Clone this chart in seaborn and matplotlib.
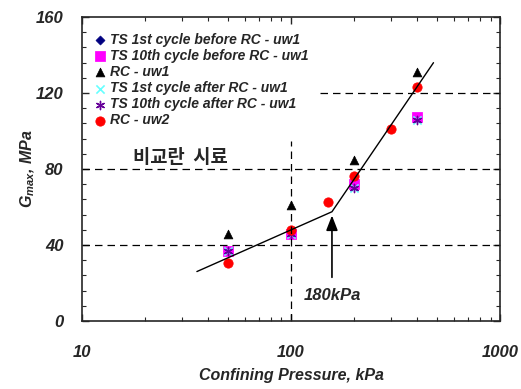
import numpy as np
import pandas as pd
import matplotlib
matplotlib.use('Agg')
import matplotlib.pyplot as plt
import seaborn as sns

# 데이터
pressure = [50, 100, 200, 400]
ts1_before = [37, 46, 72, 107]
ts10_before = [37, 46, 72, 107.5]
rc_uw1 = [46, 61, 84.5, 131]
ts1_after = [37, 46, 70, 106]
ts10_after = [37, 46, 70, 106]
rc_uw2_p = [50, 100, 150, 200, 300, 400]
rc_uw2 = [30.5, 48, 62.5, 76.5, 101, 123]

fit_p = [35.5, 157, 480]
fit_g = [26, 57.5, 136]

series_names = ['TS 1st cycle before RC - uw1', 'TS 10th cycle before RC - uw1', 'RC - uw1',
                'TS 1st cycle after RC - uw1', 'TS 10th cycle after RC - uw1', 'RC - uw2']

sns.set_style('ticks')
plt.rcParams['font.family'] = ['Liberation Sans', 'Noto Sans CJK KR', 'DejaVu Sans']
plt.rcParams['mathtext.fontset'] = 'custom'
plt.rcParams['mathtext.it'] = 'Liberation Sans:bold:italic'
plt.rcParams['mathtext.rm'] = 'Liberation Sans:bold:italic'

fig = plt.figure(figsize=(5.21, 3.89), dpi=100)
ax = fig.add_axes([0.157, 0.175, 0.803, 0.781])

# 참조선
ax.axhline(40, color='black', lw=0.9, ls=(0, (6, 4)))
ax.axhline(80, color='black', lw=0.9, ls=(0, (6, 4)))
ax.plot([137, 1000], [120, 120], color='black', lw=0.9, ls=(0, (6, 4)))
ax.plot([100, 100], [0, 95], color='black', lw=0.9, ls=(0, (6, 4)))

# 추세선
sns.lineplot(x=fit_p, y=fit_g, ax=ax, color='black', lw=1.0, sort=False)

styles = [
    (pressure, ts1_before, dict(marker='D', color='#000080', s=22)),
    (pressure, ts10_before, dict(marker='s', color='#ff00ff', s=45)),
    (pressure, rc_uw1, dict(marker='^', color='black', s=40)),
    (pressure, ts1_after, dict(marker='x', color='#66ffff', s=35, linewidth=1.2)),
    (pressure, ts10_after, dict(marker=(6, 2, 0), color='#660099', s=35, linewidth=1.0)),
    (rc_uw2_p, rc_uw2, dict(marker='o', color='#ff0000', s=45)),
]
for name, (xs, ys, kw) in zip(series_names, styles):
    sns.scatterplot(x=xs, y=ys, ax=ax, label=name, edgecolor=kw['color'] if kw['marker'] not in ('x', (6, 2, 0)) else None, **kw)

ax.set_xscale('log')
ax.set_xlim(10, 1000)
ax.set_ylim(0, 160)
ax.set_yticks([0, 40, 80, 120, 160])
ax.set_yticks(np.arange(0, 161, 8), minor=True)
ax.set_xticks([10, 100, 1000])
ax.set_xticklabels(['10', '100', '1000'])
ax.tick_params(which='both', direction='in', top=True, right=True)
ax.tick_params(which='major', length=5, width=1)
ax.tick_params(which='minor', length=3, width=0.8)
ax.tick_params(axis='x', which='both', pad=17)
ax.tick_params(axis='y', which='both', pad=13)
for lab in ax.get_xticklabels() + ax.get_yticklabels():
    lab.set_fontstyle('italic')
    lab.set_fontweight('bold')
    lab.set_fontsize(12)
for sp in ax.spines.values():
    sp.set_linewidth(1.2)

ax.set_xlabel('Confining Pressure, kPa', fontsize=11.5, fontweight='bold', fontstyle='italic', labelpad=6)
ax.set_ylabel(r'$G_{max}$, MPa', fontsize=11.5, fontweight='bold', fontstyle='italic', labelpad=-1)

# 화살표 및 주석
ax.annotate('', xy=(157, 57), xytext=(157, 21.5),
            arrowprops=dict(arrowstyle='-|>,head_length=0.9,head_width=0.35', color='black', lw=1.2))
ax.text(158, 13.5, '180kPa', fontsize=12, fontweight='bold', fontstyle='italic', ha='center', va='center')
ax.text(17.5, 86, '비교란  시료', fontsize=13.5, fontweight='bold', fontstyle='italic',
        family=['Noto Sans CJK KR', 'DejaVu Sans'], ha='left', va='center')

leg = ax.legend(loc='upper left', frameon=False, handletextpad=0.1, labelspacing=0.15,
                borderaxespad=0.3, handlelength=1.2, bbox_to_anchor=(0.0, 0.98))
for t in leg.get_texts():
    t.set_fontsize(10)
    t.set_fontweight('bold')
    t.set_fontstyle('italic')

fig.savefig('out.png', dpi=100)
